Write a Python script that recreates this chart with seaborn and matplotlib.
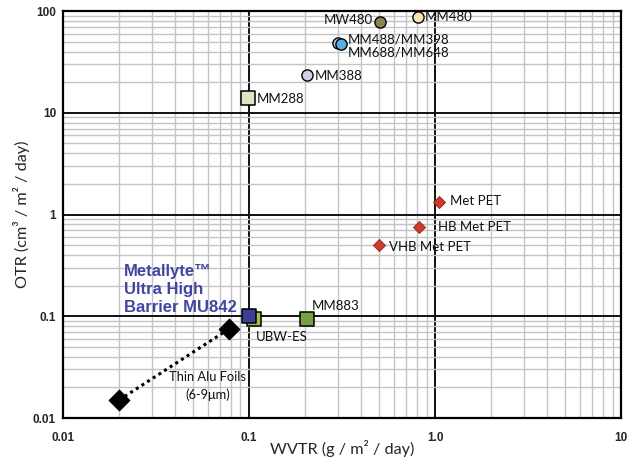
import matplotlib
matplotlib.use("Agg")
import matplotlib.pyplot as plt
import seaborn as sns
import pandas as pd
from matplotlib.ticker import FixedLocator, FixedFormatter, LogLocator, NullFormatter

# ---- data ----
alu_wvtr = [0.02, 0.078]
alu_otr = [0.015, 0.075]

red_names = ["Met PET", "HB Met PET", "VHB Met PET"]
red_wvtr = [1.05, 0.817, 0.5]
red_otr = [1.33, 0.757, 0.5]

sq_names = ["MU842", "UBW-ES", "MM883", "MM288"]
sq_wvtr = [0.1, 0.107, 0.204, 0.099]
sq_otr = [0.1, 0.095, 0.095, 14.0]
sq_colors = ["#3b3f98", "#9dc63f", "#77a041", "#dde6c4"]

circ_names = ["MM480", "MW480", "MM488/MM398", "MM688/MM648", "MM388"]
circ_wvtr = [0.81, 0.506, 0.30, 0.313, 0.204]
circ_otr = [87.0, 78.5, 48.5, 47.4, 23.6]
circ_colors = ["#fbe0b5", "#8a8650", "#a9d4f2", "#5aaee6", "#d5d0e3"]

x_ticks = [0.01, 0.1, 1, 10]
x_ticklabels = ["0.01", "0.1", "1.0", "10"]
y_ticks = [0.01, 0.1, 1, 10, 100]
y_ticklabels = ["0.01", "0.1", "1", "10", "100"]

sns.set_style("white")
plt.rcParams['font.family'] = ['Lato', 'DejaVu Sans']

fig = plt.figure(figsize=(6.28, 4.59), dpi=100)
ax = fig.add_axes([0.1003, 0.0893, 0.8886, 0.8867])
ax.set_xscale("log")
ax.set_yscale("log")
ax.set_xlim(0.01, 10)
ax.set_ylim(0.01, 100)

ax.xaxis.set_major_locator(FixedLocator(x_ticks))
ax.xaxis.set_major_formatter(FixedFormatter(x_ticklabels))
ax.yaxis.set_major_locator(FixedLocator(y_ticks))
ax.yaxis.set_major_formatter(FixedFormatter(y_ticklabels))
ax.xaxis.set_minor_locator(LogLocator(base=10, subs=range(2, 10)))
ax.yaxis.set_minor_locator(LogLocator(base=10, subs=range(2, 10)))
ax.xaxis.set_minor_formatter(NullFormatter())
ax.yaxis.set_minor_formatter(NullFormatter())

ax.grid(which="minor", color="#c4c4c4", lw=1.0, zorder=0)
ax.grid(which="major", color="#111111", lw=1.4, zorder=0.5)
ax.set_axisbelow(True)
for s in ax.spines.values():
    s.set_color("black")
    s.set_linewidth(1.6)

ax.tick_params(which="both", length=0)
ax.tick_params(axis="x", pad=10)
ax.tick_params(axis="y", pad=5)
for lab in ax.get_xticklabels() + ax.get_yticklabels():
    lab.set_fontfamily("Liberation Sans")
    lab.set_fontweight("bold")
    lab.set_fontsize(8.5)

# thin alu foils
sns.lineplot(x=alu_wvtr, y=alu_otr, ax=ax, color="black", lw=2.2, linestyle=(0, (1, 1.2)), zorder=3)
sns.scatterplot(x=alu_wvtr, y=alu_otr, ax=ax, marker="D", s=110, color="black", edgecolor="black", zorder=4)

# red diamonds
sns.scatterplot(x=red_wvtr, y=red_otr, ax=ax, marker="D", s=38, color="#d23a2a", edgecolor="#8a2218", linewidth=0.6, zorder=4)

# squares (draw UBW-ES under MU842)
order = [1, 2, 3, 0]
for i in order:
    sns.scatterplot(x=[sq_wvtr[i]], y=[sq_otr[i]], ax=ax, marker="s", s=105, color=sq_colors[i],
                    edgecolor="black", linewidth=1.1, zorder=4 + (1 if i == 0 else 0))

for i in range(len(circ_names)):
    sns.scatterplot(x=[circ_wvtr[i]], y=[circ_otr[i]], ax=ax, marker="o", s=65, color=circ_colors[i],
                    edgecolor="black", linewidth=1.0, zorder=4)

lbl = dict(fontsize=9.5, color="#111111", va="center")
ax.annotate("Met PET", (red_wvtr[0], red_otr[0]), xytext=(8, 1), textcoords="offset points", ha="left", **lbl)
ax.annotate("HB Met PET", (red_wvtr[1], red_otr[1]), xytext=(14, 0), textcoords="offset points", ha="left", **lbl)
ax.annotate("VHB Met PET", (red_wvtr[2], red_otr[2]), xytext=(7, -1), textcoords="offset points", ha="left", **lbl)
ax.annotate("UBW-ES", (sq_wvtr[1], sq_otr[1]), xytext=(1, -13), textcoords="offset points", ha="left", **lbl)
ax.annotate("MM883", (sq_wvtr[2], sq_otr[2]), xytext=(4, 9), textcoords="offset points", ha="left", **lbl)
ax.annotate("MM288", (sq_wvtr[3], sq_otr[3]), xytext=(6, -1), textcoords="offset points", ha="left", **lbl)
ax.annotate("MM480", (circ_wvtr[0], circ_otr[0]), xytext=(5, 0), textcoords="offset points", ha="left", **lbl)
ax.annotate("MW480", (circ_wvtr[1], circ_otr[1]), xytext=(-5, 1), textcoords="offset points", ha="right", **lbl)
ax.annotate("MM488/MM398", (circ_wvtr[3], circ_otr[3]), xytext=(5, 3), textcoords="offset points", ha="left", **lbl)
ax.annotate("MM688/MM648", (circ_wvtr[3], circ_otr[3]), xytext=(5, -6), textcoords="offset points", ha="left", **lbl)
ax.annotate("MM388", (circ_wvtr[4], circ_otr[4]), xytext=(6, -1), textcoords="offset points", ha="left", **lbl)

ax.text(0.06, 0.0206, "Thin Alu Foils\n(6-9\u03bcm)", ha="center", va="center", fontsize=9.3,
        color="#111111", linespacing=1.55)

ax.text(0.0213, 0.184, "Metallyte\u2122\nUltra High\nBarrier MU842", ha="left", va="center",
        fontsize=12, fontweight="bold", color="#4246a3", family="Liberation Sans", linespacing=1.25)

ax.set_xlabel("WVTR (g / m\u00b2 / day)", fontsize=11.7, labelpad=-3)
ax.set_ylabel("OTR (cm\u00b3 / m\u00b2 / day)", fontsize=11.7, labelpad=2)

fig.savefig("out.png", dpi=100)
